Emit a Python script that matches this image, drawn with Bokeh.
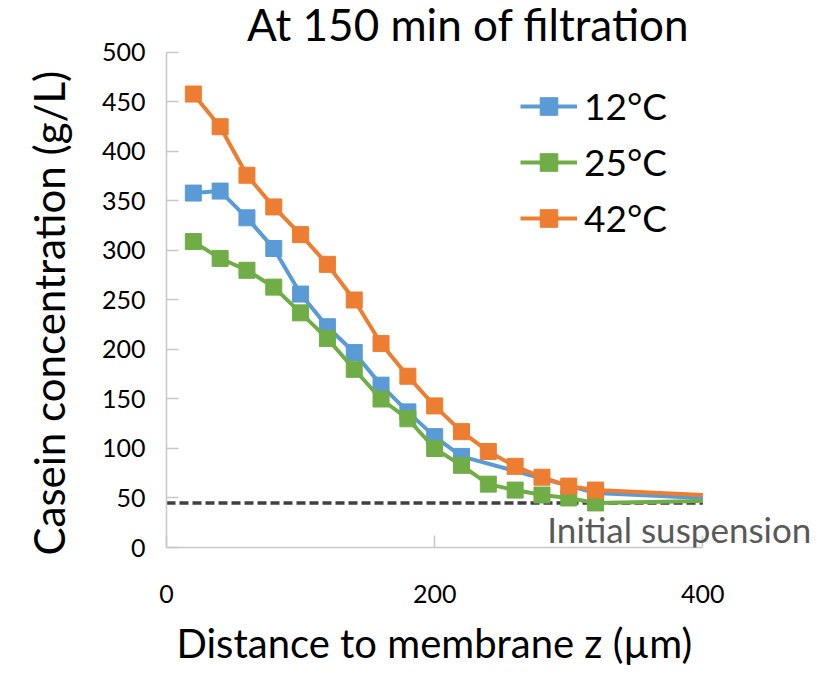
from bokeh.plotting import figure
from bokeh.models import Label, Legend, LegendItem, FixedTicker, Title
from bokeh.embed import file_html
from bokeh.resources import INLINE

# Data
z_12 = [20, 40, 60, 80, 100, 120, 140, 160, 180, 200, 220, 320, 400]
c_12 = [358, 360, 333, 302, 256, 223, 197, 164, 137, 112, 92, 55, 50]

z_25 = [20, 40, 60, 80, 100, 120, 140, 160, 180, 200, 220, 240, 260, 280, 300, 320, 400]
c_25 = [309, 292, 280, 263, 237, 211, 180, 150, 130, 100, 83, 64, 58, 53, 50, 45, 47]

z_42 = [20, 40, 60, 80, 100, 120, 140, 160, 180, 200, 220, 240, 260, 280, 300, 320, 400]
c_42 = [458, 425, 376, 344, 316, 286, 250, 206, 173, 143, 117, 97, 82, 71, 62, 58, 53]

initial_suspension = 45
series_labels = ["12°C", "25°C", "42°C"]
x_ticks = [0, 200, 400]
y_ticks = [0, 50, 100, 150, 200, 250, 300, 350, 400, 450, 500]

FONT = "Lato"
colors = ["#5B9BD5", "#70AD47", "#ED7D31"]

# frame extends right/up past the axes so that the title and the
# "Initial suspension" note are not clipped; axes keep bounds 0-400 / 0-500
p = figure(width=815, height=677, output_backend="svg", toolbar_location=None,
           x_range=(0, 484.0), y_range=(0, 552.5),
           min_border_left=164, min_border_right=0,
           min_border_top=0, min_border_bottom=130)
p.outline_line_color = None
p.xgrid.grid_line_color = None
p.ygrid.grid_line_color = None

for ax in (p.xaxis[0], p.yaxis[0]):
    ax.axis_line_color = "#C8C8C8"
    ax.axis_line_width = 1.5
    ax.major_tick_line_color = "#C8C8C8"
    ax.major_tick_line_width = 1.5
    ax.major_tick_in = 12
    ax.major_tick_out = 0
    ax.minor_tick_line_color = None
    ax.major_label_text_font = FONT
    ax.major_label_text_font_size = "25px"
    ax.major_label_text_color = "#000000"

p.xaxis.bounds = (x_ticks[0], x_ticks[-1])
p.yaxis.bounds = (y_ticks[0], y_ticks[-1])
p.xaxis.ticker = FixedTicker(ticks=x_ticks)
p.yaxis.ticker = FixedTicker(ticks=y_ticks)
p.xaxis.major_label_standoff = 37
p.yaxis.major_label_standoff = 21

# axis titles (placed as side titles so they can be aligned to the 0-400 / 0-500 axes)
p.add_layout(Title(text="Distance to membrane z (µm)", align="left", offset=10,
                   vertical_align="bottom", standoff=22,
                   text_font=FONT, text_font_size="40px",
                   text_font_style="normal", text_color="#000000"), "below")
p.add_layout(Title(text="Casein concentration (g/L)", align="left", offset=-8,
                   vertical_align="top", standoff=46,
                   text_font=FONT, text_font_size="42px",
                   text_font_style="normal", text_color="#000000"), "left")

# Initial suspension dashed line
p.line([x_ticks[0], x_ticks[-1]], [initial_suspension, initial_suspension],
       line_color="#404040", line_width=3.5, line_dash="9 4")

items = []
for zs, cs, col, lab in [(z_12, c_12, colors[0], series_labels[0]),
                         (z_25, c_25, colors[1], series_labels[1]),
                         (z_42, c_42, colors[2], series_labels[2])]:
    r1 = p.line(zs, cs, line_color=col, line_width=4, line_join="round")
    r2 = p.scatter(zs[:-1], cs[:-1], marker="square", size=16,
                   fill_color=col, line_color=col)
    items.append(LegendItem(label=lab, renderers=[r1, r2]))

legend = Legend(items=items, location=(354, 307), orientation="vertical",
                label_text_font=FONT, label_text_font_size="37px",
                label_text_color="#000000",
                glyph_width=57, glyph_height=44, label_height=44,
                label_standoff=7, spacing=11, padding=0, margin=0,
                border_line_color=None, background_fill_alpha=0)
p.add_layout(legend)

p.add_layout(Label(x=225, y=529, text="At 150 min of filtration",
                   text_font=FONT, text_font_size="44px", text_color="#000000",
                   text_align="center", text_baseline="alphabetic"))
p.add_layout(Label(x=284, y=19, text="Initial suspension",
                   text_font=FONT, text_font_size="35px", text_color="#595959",
                   text_align="left", text_baseline="alphabetic"))

open("out.html", "w").write(file_html(p, INLINE))
